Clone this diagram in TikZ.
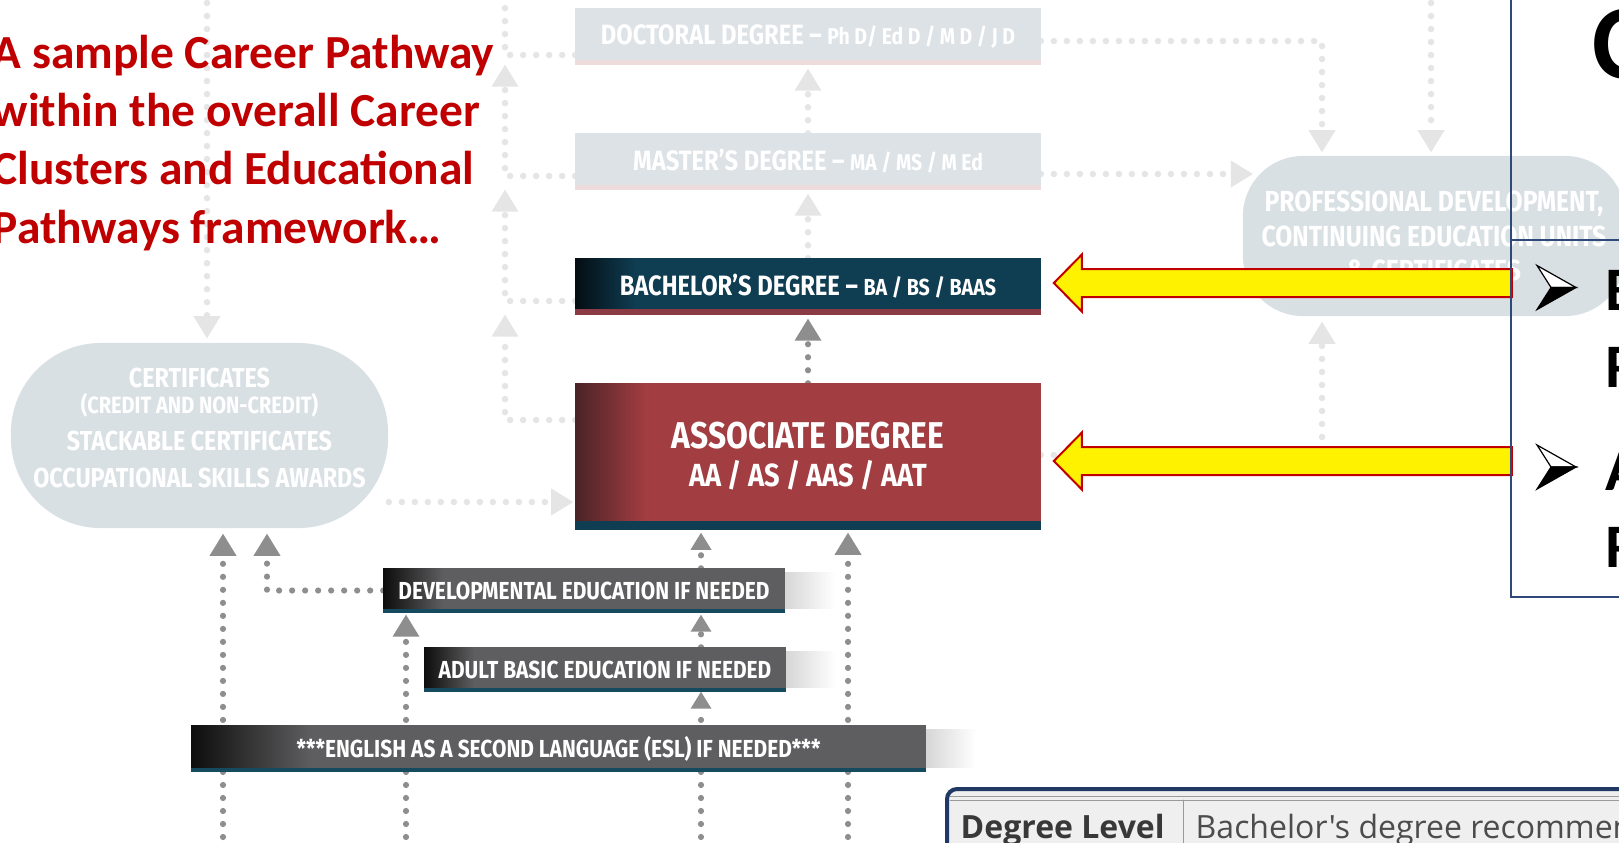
\documentclass[tikz,border=0pt]{standalone}
\usepackage{fontspec}
\setmainfont{Carlito}
\newfontfamily\diagfont[FakeStretch=0.85]{Fira Sans}
\newfontfamily\tablefont{Open Sans}
\usetikzlibrary{arrows.meta}
\pgfdeclarelayer{background}
\pgfsetlayers{background,main}

\begin{document}
\begin{tikzpicture}
	[x=0.01cm,y=-0.01cm,line cap=round,
	%Styles
	lightdots/.style={draw=dotlight,line width=0.065cm,line cap=round,dash pattern=on 0pt off 0.13cm},
	darkdots/.style={draw=dotdark,line width=0.062cm,line cap=round,dash pattern=on 0pt off 0.13cm},
	bigtip/.style={-{Triangle[width=0.27cm,length=0.22cm,line width=0pt]}},
	smalltip/.style={-{Triangle[width=0.21cm,length=0.17cm,line width=0pt]}},
	degbox/.style={rectangle,inner sep=0pt,text=white,minimum width=4.64cm,minimum height=0.55cm},
	degfont/.style={font=\diagfont\bfseries\fontsize{7.95pt}{9pt}\selectfont},
	stepfont/.style={font=\diagfont\bfseries\fontsize{7pt}{8pt}\selectfont},
	pill/.style={fill=pillgray,inner sep=0pt,text=white},
	yellowarrow/.style={fill=yellow,draw=arrowred,line width=0.02cm,line join=miter},
	bulletmark/.style={draw=black,line width=0.012cm,line join=miter},
	panelline/.style={draw=panelblue,line width=0.02cm},
	title/.style={text=titlered,align=left,inner sep=0pt,
		font=\bfseries\fontsize{13.5pt}{16.6pt}\selectfont},
	bulletword/.style={inner sep=0pt,anchor=base west,font=\bfseries\fontsize{17.6pt}{20pt}\selectfont}
	]
	
	%Colors
	\definecolor{titlered}{HTML}{C00000}
	\definecolor{boxlight}{HTML}{DCE2E6}
	\definecolor{striplight}{HTML}{EEDCDD}
	\definecolor{pillgray}{HTML}{D9E0E4}
	\definecolor{bachteal}{HTML}{0F3D52}
	\definecolor{bachdark}{HTML}{050D12}
	\definecolor{bachstrip}{HTML}{8C3A43}
	\definecolor{assocred}{HTML}{A23D41}
	\definecolor{assocdark}{HTML}{4A2327}
	\definecolor{boxgray}{HTML}{5E5E60}
	\definecolor{boxdark}{HTML}{0D0D0D}
	\definecolor{stripteal}{HTML}{164A5E}
	\definecolor{dotdark}{HTML}{8E8E8E}
	\definecolor{dotlight}{HTML}{E5E5E5}
	\definecolor{arrowred}{HTML}{C00000}
	\definecolor{panelblue}{HTML}{2F4A7A}
	\definecolor{tablenavy}{HTML}{1F3864}
	\definecolor{tablegray}{HTML}{EFEFEF}
	\definecolor{rulegray}{HTML}{9A9A9A}
	
	\useasboundingbox (0,0) rectangle (1619,842);
	\clip (0,0) rectangle (1619,842);
	
	%The graphic
	\node[degbox,degfont] (Doc) at (808,36.5)
		{DOCTORAL DEGREE – {\fontsize{6.5pt}{7pt}\selectfont Ph D/ Ed D / M D / J D}};
	\node[degbox,degfont] (Mast) at (808,161.5)
		{MASTER’S DEGREE – {\fontsize{6.5pt}{7pt}\selectfont MA / MS / M Ed}};
	\node[degbox,degfont] (Bach) at (808,286.5)
		{BACHELOR’S DEGREE – {\fontsize{6.6pt}{7pt}\selectfont BA / BS / BAAS}};
	\node[degbox,minimum height=1.45cm,align=center,
		font=\diagfont\bfseries\fontsize{10.6pt}{10.8pt}\selectfont] (Assoc) at (808,456.5)
		{ASSOCIATE DEGREE\\{\fontsize{9.1pt}{10.8pt}\selectfont AA / AS / AAS / AAT}};
	
	\node[degbox,minimum width=4cm,minimum height=0.43cm,stepfont]
		(DevEd) at (584,590.5) {DEVELOPMENTAL EDUCATION IF NEEDED};
	\node[degbox,minimum width=3.6cm,minimum height=0.43cm,stepfont]
		(Adult) at (605,669.5) {ADULT BASIC EDUCATION IF NEEDED};
	\node[degbox,minimum width=7.33cm,minimum height=0.45cm,stepfont]
		(ESL) at (558.5,748.5) {***ENGLISH AS A SECOND LANGUAGE (ESL) IF NEEDED***};
	
	\node[pill,rounded corners=0.9cm,minimum width=3.77cm,minimum height=1.85cm] (Cert) at (199.5,435.5) {};
	\node[text=white,align=center,inner sep=0pt,
		font=\diagfont\bfseries\fontsize{7.8pt}{10.5pt}\selectfont] (CertText) at (199.5,428)
		{CERTIFICATES\\[-3pt]{\fontsize{6.7pt}{7pt}\selectfont (CREDIT AND NON-CREDIT)}\\
		STACKABLE CERTIFICATES\\OCCUPATIONAL SKILLS AWARDS};
	\node[pill,rounded corners=0.6cm,minimum width=3.82cm,minimum height=1.6cm,align=center,
		font=\diagfont\bfseries\fontsize{8.26pt}{9.7pt}\selectfont] (Prof) at (1434,236)
		{PROFESSIONAL DEVELOPMENT,\\CONTINUING EDUCATION UNITS\\\& CERTIFICATES};
	
	\coordinate (lcol) at (505,-10);
	\coordinate (ccol) at (207,-10);
	\coordinate (rcol) at (1322,0);
	\coordinate (pcol) at (1431,-10);
	\coordinate (certrow) at (0,502);
	\coordinate (k2) at (267,0);
	\coordinate (b1) at (223,850);
	\coordinate (b3) at (406,850);
	\coordinate (b4) at (701,850);
	\coordinate (b5) at (848,850);
	
	\begin{pgfonlayer}{background}
		\fill[white] (0,0) rectangle (1619,842);
		\foreach \b in {DevEd,Adult,ESL}
			\shade[left color=black!16,right color=white] ([yshift=-0.04cm]\b.north east) rectangle ([xshift=0.5cm,yshift=0.04cm]\b.south east);
		
		%faded pathways
		\draw[lightdots,bigtip,shorten >=0.04cm] (Bach.north) -- (Mast.south);
		\draw[lightdots,bigtip,shorten >=0.04cm] (Mast.north) -- (Doc.south);
		\draw[lightdots,bigtip,shorten >=0.04cm] (ccol) -- (ccol |- Cert.north);
		\draw[lightdots,bigtip,shorten >=0.02cm] (certrow -| Cert.east) -- (certrow -| Assoc.west);
		\draw[lightdots,bigtip] ([yshift=0.365cm]Assoc.west) -| (lcol |- Bach.south);
		\draw[lightdots,bigtip] ([yshift=-0.145cm]Bach.west) -| (lcol |- Mast.south);
		\draw[lightdots,bigtip] ([yshift=-0.145cm]Mast.west) -| (lcol |- Doc.south);
		\draw[lightdots] ([yshift=-0.185cm]Doc.west) -| (lcol);
		\draw[lightdots,bigtip,shorten >=0.03cm] ([yshift=-0.045cm]Doc.east) -| (rcol |- Prof.north);
		\draw[lightdots,bigtip] ([yshift=-0.125cm]Mast.east) -- ++(212,0);
		\draw[lightdots,bigtip,shorten >=0.03cm] (pcol) -- (pcol |- Prof.north);
		\draw[lightdots,bigtip,shorten >=0.05cm] ([yshift=0.015cm]Assoc.east) -| (rcol |- Prof.south);
		
		%entry pathways
		\draw[darkdots,bigtip,shorten >=0.05cm] (b1) -- (b1 |- Cert.south);
		\draw[darkdots,bigtip,shorten >=0.05cm] (DevEd.west) -| (k2 |- Cert.south);
		\draw[darkdots,bigtip,shorten >=0.02cm] (b3) -- (b3 |- DevEd.south);
		\draw[darkdots,smalltip] (b4) -- (b4 |- Adult.south);
		\draw[darkdots,smalltip,shorten >=0.02cm] (b4 |- Adult.north) -- (b4 |- DevEd.south);
		\draw[darkdots,smalltip,shorten >=0.03cm] (b4 |- DevEd.north) -- (b4 |- Assoc.south);
		\draw[darkdots,bigtip,shorten >=0.03cm] (b5) -- (b5 |- Assoc.south);
		\draw[darkdots,bigtip,shorten >=0.04cm] (Assoc.north) -- (Bach.south);
		
		%box bodies: fill, left gradient, bottom strip
		\foreach \b/\dark/\main/\strip/\sh/\gl in
			{Doc/boxlight/boxlight/striplight/0.05/0.6, Mast/boxlight/boxlight/striplight/0.05/0.6,
			 Bach/bachdark/bachteal/bachstrip/0.06/0.6, Assoc/assocdark/assocred/bachteal/0.09/0.7,
			 DevEd/boxdark/boxgray/stripteal/0.04/0.6, Adult/boxdark/boxgray/stripteal/0.04/0.5,
			 ESL/boxdark/boxgray/stripteal/0.04/1.2}
		{
			\fill[\main] (\b.south west) rectangle (\b.north east);
			\shade[left color=\dark,right color=\main] (\b.south west) rectangle ([xshift=\gl cm]\b.north west);
			\fill[\strip] (\b.south west) rectangle ([yshift=\sh cm]\b.south east);
		}
	\end{pgfonlayer}
	
	\node[title,anchor=north west] (Title) at (-8,34)
		{A sample Career Pathway\\within the overall Career\\Clusters and Educational\\Pathways framework…};
	
	\foreach \b/\dy in {Bach/0.035,Assoc/-0.045}
		\draw[yellowarrow] ([xshift=0.13cm,yshift=\dy cm]\b.east) -- ++(28,-28.5) -- ++(0,14.5)
			-- ++(430,0) -- ++(0,28) -- ++(-430,0) -- ++(0,14.5) -- cycle;
	
	\draw[panelline] (1511,-5) -- (1511,597) -- (1630,597);
	\draw[panelline] (1511,240) -- (1630,240);
	\node[bulletword,font=\bfseries\fontsize{30pt}{32pt}\selectfont] (Head) at (1592,78) {C};
	\foreach \y in {287.5,467}
	{
		\draw[bulletmark,fill=white] (1576,\y) -- (1537,\y-22) -- (1551,\y) -- cycle;
		\draw[bulletmark,fill=black] (1576,\y) -- (1551,\y) -- (1537,\y+22) -- cycle;
	}
	\node[bulletword] (W1) at (1605,310) {B};
	\node[bulletword] (W2) at (1605,387) {R};
	\node[bulletword] (W3) at (1605,490) {A};
	\node[bulletword] (W4) at (1605,567) {R};
	
	%table
	\fill[tablegray] (947,789) rectangle (1630,850);
	\draw[rulegray,line width=0.01cm] (950,796) -- (1630,796) (950,800) -- (1630,800) (1183,800) -- (1183,850);
	\draw[tablenavy,line width=0.04cm,rounded corners=0.1cm] (947,850) -- (947,789) -- (1630,789);
	\node[inner sep=0pt,anchor=base west,text=black!78,font=\tablefont\bfseries\fontsize{9.1pt}{10pt}\selectfont]
		(DegLevel) at (960,838) {Degree Level};
	\node[inner sep=0pt,anchor=base west,text=black!70,font=\tablefont\fontsize{9.1pt}{10pt}\selectfont]
		(BachRec) at (1195,838) {Bachelor's degree recommended};
\end{tikzpicture}
\end{document}
